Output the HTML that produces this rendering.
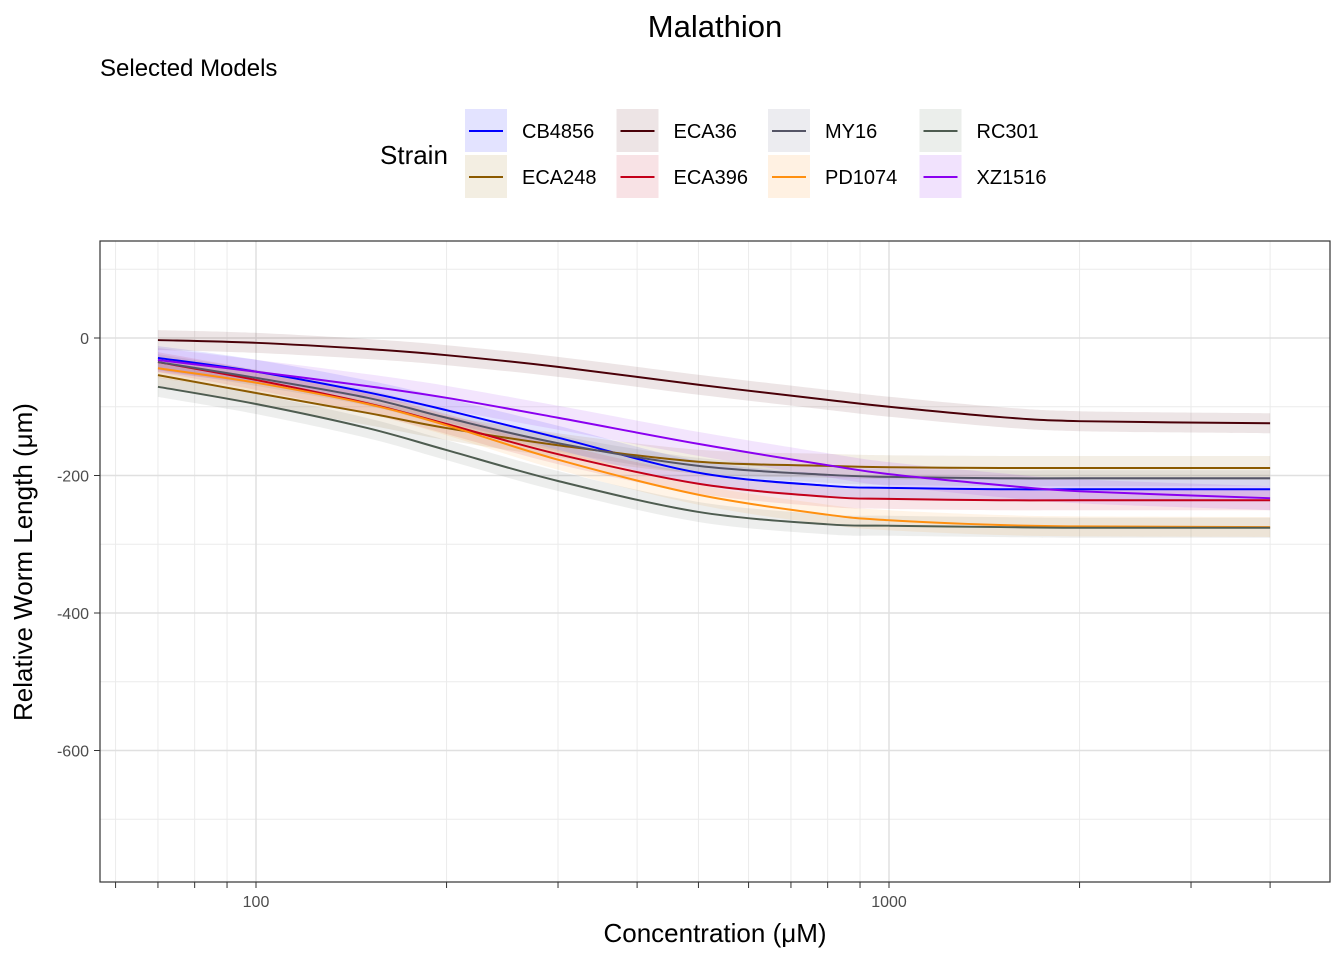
<!DOCTYPE html>
<html><head><meta charset="utf-8"><style>
body{margin:0;background:#fff;font-family:"Liberation Sans",Arial,sans-serif}
svg text{font-family:"Liberation Sans",Arial,sans-serif}
</style></head><body>
<svg id="chart" width="1344" height="960" xmlns="http://www.w3.org/2000/svg">
<text x="715" y="37" font-size="31" text-anchor="middle">Malathion</text>
<text x="100" y="76" font-size="24">Selected Models</text>
<g id="legend"><text x="380" y="164" font-size="26">Strain</text></g>
<g id="grid"></g>
<g id="bands"></g>
<g id="lines"></g>
<rect x="100" y="241" width="1230" height="641" fill="none" stroke="#333" stroke-width="1.2"/>
<g id="axes"></g>
<text x="715" y="942" font-size="26" text-anchor="middle">Concentration (μM)</text>
<text transform="translate(32,562) rotate(-90)" font-size="26" text-anchor="middle">Relative Worm Length (μm)</text>
</svg>
<script>
const strains=["CB4856","ECA248","ECA36","ECA396","MY16","PD1074","RC301","XZ1516"];
const colors=["#0000ff","#8b5a00","#4a0008","#c4001a","#555566","#ff9010","#4e5c50","#8a00f0"];
const fills=["#e3e3ff","#f3eee2","#ede4e5","#f8e2e5","#ececf0","#fff1e2","#ebeeeb","#f1e2fd"];
const conc=[70,100,150,200,300,500,800,1000,1500,2000,4000];
const vCB4856=[-29,-49,-79,-105,-145,-196,-215,-218,-220,-220,-220];
const vECA248=[-54,-80,-109,-131,-156,-180,-186,-188,-189,-189,-189];
const vECA36=[-3,-7,-16,-25,-42,-68,-90,-100,-115,-121,-124];
const vECA396=[-35,-61,-95,-125,-169,-212,-231,-234,-236,-236,-236];
const vMY16=[-35,-58,-87,-116,-153,-186,-199,-202,-204,-204,-204];
const vPD1074=[-44,-65,-96,-127,-177,-228,-257,-265,-272,-274,-275];
const vRC301=[-71,-96,-131,-163,-208,-253,-271,-273,-275,-276,-276];
const vXZ1516=[-32,-49,-70,-87,-116,-154,-185,-198,-214,-223,-233];
const series=[vCB4856,vECA248,vECA36,vECA396,vMY16,vPD1074,vRC301,vXZ1516];
const bandHalf=[12,12,10,10,8,10,10,12];
const yTicks=[0,-200,-400,-600];
const yMinor=[100,-100,-300,-500,-700];
const xTicks=[100,1000];
const xMinor=[60,70,80,90,200,300,400,500,600,700,800,900,2000,3000,4000];
const NS="http://www.w3.org/2000/svg";
const X=c=>256+633*(Math.log10(c)-2);
const Y=v=>338-v*0.6875;
function mk(t,a,p){const e=document.createElementNS(NS,t);for(const k in a)e.setAttribute(k,a[k]);p.appendChild(e);return e;}
const grid=document.getElementById('grid'),axes=document.getElementById('axes');
yMinor.forEach(v=>{const l=mk('line',{x1:100,x2:1330,y1:Y(v),y2:Y(v),stroke:'#ebebeb','stroke-width':1},grid);

});
xMinor.forEach(c=>{const l=mk('line',{x1:X(c),x2:X(c),y1:241,y2:882,stroke:'#ebebeb','stroke-width':1},grid);


const t=mk('line',{x1:X(c),x2:X(c),y1:882,y2:888,stroke:'#333','stroke-width':1},axes);

});
yTicks.forEach(v=>{const l=mk('line',{x1:100,x2:1330,y1:Y(v),y2:Y(v),stroke:'#e0e0e0','stroke-width':1.5},grid);


const t=mk('line',{x1:94,x2:100,y1:Y(v),y2:Y(v),stroke:'#333'},axes);


const tx=mk('text',{x:89,y:Y(v)+6,'font-size':16,fill:'#4d4d4d','text-anchor':'end'},axes);tx.textContent=v;

});
xTicks.forEach(c=>{const l=mk('line',{x1:X(c),x2:X(c),y1:241,y2:882,stroke:'#e0e0e0','stroke-width':1.5},grid);


const t=mk('line',{x1:X(c),x2:X(c),y1:882,y2:888,stroke:'#333'},axes);


const tx=mk('text',{x:X(c),y:907,'font-size':16,fill:'#4d4d4d','text-anchor':'middle'},axes);tx.textContent=c;

});
function path(pts){let d='M'+pts[0][0]+','+pts[0][1];for(let i=0;i<pts.length-1;i++){const p0=pts[i-1]||pts[i],p1=pts[i],p2=pts[i+1],p3=pts[i+2]||p2;
d+=' C'+(p1[0]+(p2[0]-p0[0])/6)+','+(p1[1]+(p2[1]-p0[1])/6)+' '+(p2[0]-(p3[0]-p1[0])/6)+','+(p2[1]-(p3[1]-p1[1])/6)+' '+p2[0]+','+p2[1];}return d;}
const bands=document.getElementById('bands'),lines=document.getElementById('lines'),leg=document.getElementById('legend');
series.forEach((s,i)=>{
 const up=conc.map((c,j)=>[X(c),Y(s[j])-bandHalf[i]]),lo=conc.map((c,j)=>[X(c),Y(s[j])+bandHalf[i]]).reverse();
 const dl=path(lo).replace('M','L');
 const b=mk('path',{d:path(up)+' '+dl+' Z',fill:colors[i],'fill-opacity':0.1},bands);
 
 
 const l=mk('path',{d:path(conc.map((c,j)=>[X(c),Y(s[j])])),fill:'none',stroke:colors[i],'stroke-width':2},lines);
 
 
 const col=Math.floor(i/2),row=i%2,lx=465+col*151.5,ly=109+row*46;
 const g=mk('g',{},leg);
 
 
 mk('rect',{x:lx,y:ly,width:42,height:43,fill:fills[i]},g);
 mk('line',{x1:lx+4,x2:lx+38,y1:ly+22,y2:ly+22,stroke:colors[i],'stroke-width':2},g);
 const t=mk('text',{x:lx+57,y:ly+29,'font-size':20},g);t.textContent=strains[i];
});
</script>
</body></html>
